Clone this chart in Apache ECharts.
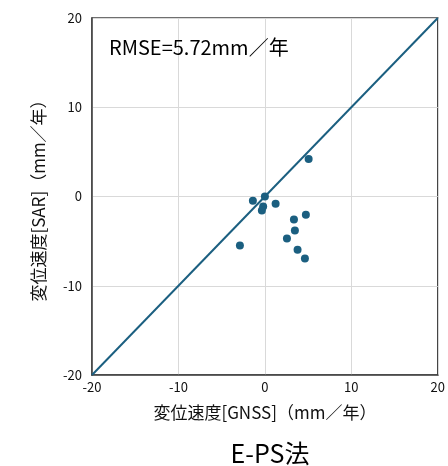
<!DOCTYPE html>
<html><head><meta charset="utf-8">
<script src="https://cdn.jsdelivr.net/npm/echarts@6/dist/echarts.min.js"></script>
<style>html,body{margin:0;padding:0;background:#fff}#c{width:448px;height:466px}</style>
</head><body><div id="c"></div>
<script>
const gnss = [5.06, 0.0, -1.39, -0.2, -0.35, 1.24, 4.74, 3.36, 3.47, 2.55, -2.89, 3.78, 4.63];
const sar  = [4.19, 0.0, -0.48, -1.12, -1.57, -0.82, -2.05, -2.58, -3.81, -4.71, -5.49, -5.98, -6.95];
const lineX = [-20, 20];
const lineY = [-20, 20];
const axisTicks = [-20, -10, 0, 10, 20];
const xName = '変位速度[GNSS]（mm／年）';
const yName = '変位速度[SAR]（mm／年）';
const rmseText = 'RMSE=5.72mm／年';
const titleText = 'E-PS法';
const FONT = '"Noto Sans CJK JP", "Noto Sans", sans-serif';
const chart = echarts.init(document.getElementById('c'));
const axisCommon = {
  type: 'value', min: axisTicks[0], max: axisTicks[axisTicks.length-1], interval: 10,
  axisLine: {show: true, onZero: false, lineStyle: {color: '#404040', width: 1.5}},
  axisTick: {show: false},
  splitLine: {show: true, lineStyle: {color: '#d9d9d9', width: 1}},
  axisLabel: {color: '#111', fontSize: 13, fontFamily: FONT},
  nameLocation: 'middle',
  nameTextStyle: {color: '#111', fontSize: 17, fontFamily: FONT}
};
chart.setOption({
  animation: false,
  title: [
    {text: titleText, left: 265, top: 436, textAlign: 'center',
     textStyle: {fontSize: 25, fontWeight: 'normal', color: '#000', fontFamily: FONT}},
    {text: rmseText, left: 104, top: 32,
     textStyle: {fontSize: 20, fontWeight: 'normal', color: '#000', fontFamily: FONT}}
  ],
  grid: {left: 92, right: 10, top: 18, bottom: 91, show: true, borderColor: '#404040', borderWidth: 1.5},
  xAxis: Object.assign({}, axisCommon, {name: xName, nameGap: 29,
    axisLabel: Object.assign({}, axisCommon.axisLabel, {margin: 6})}),
  yAxis: Object.assign({}, axisCommon, {name: yName, nameGap: 45,
    axisLabel: Object.assign({}, axisCommon.axisLabel, {margin: 10})}),
  series: [
    {type: 'line', data: lineX.map((v,i)=>[v, lineY[i]]), symbol: 'none',
     lineStyle: {color: '#1b5f80', width: 2}, z: 2},
    {type: 'scatter', data: gnss.map((v,i)=>[v, sar[i]]), symbolSize: 8,
     itemStyle: {color: '#1b5f80', opacity: 1}, z: 3}
  ]
});
</script></body></html>
